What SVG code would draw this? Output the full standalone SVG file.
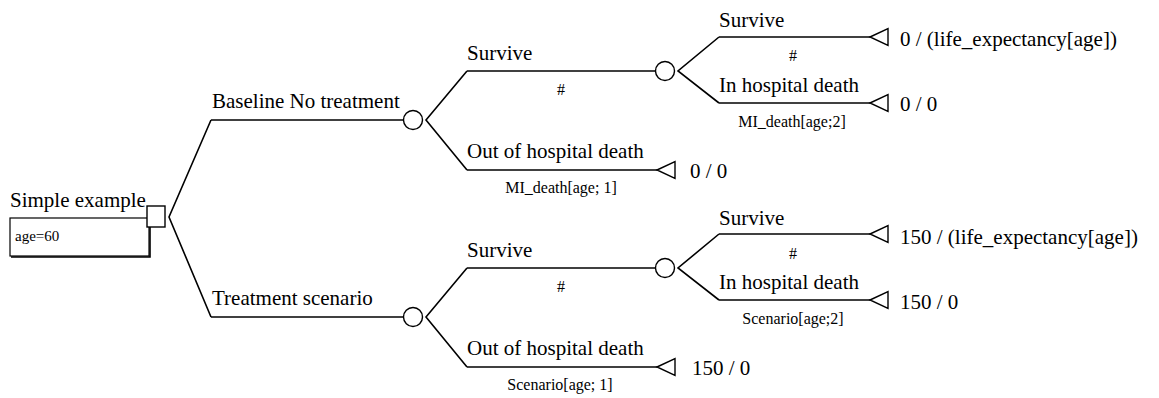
<svg xmlns="http://www.w3.org/2000/svg" width="1159" height="398" viewBox="0 0 1159 398">
<style>
.ln{fill:none;stroke:#000;stroke-width:1.6}
.nd{fill:#fff;stroke:#000;stroke-width:1.4}
.t{font-family:"Liberation Serif","Times New Roman",serif;font-size:21px;fill:#000}
.s{font-family:"Liberation Serif","Times New Roman",serif;font-size:16px;fill:#000;text-anchor:middle}
.v{font-family:"Liberation Serif","Times New Roman",serif;font-size:15px;fill:#000}
</style>
<defs>
<circle id="chance" r="9.5" class="nd"/>
<path id="term" d="M0,0 L18,-8.5 L18,8.5 Z" class="nd"/>
</defs>
<rect width="1159" height="398" fill="#fff"/>
<g id="connectors">
<path class="ln" d="M211,120 L169,217 L211,317"/>
<path class="ln" d="M211,120 H403.5"/>
<path class="ln" d="M211,317 H403.5"/>
<path class="ln" d="M467,71 L426,120 L467,170"/>
<path class="ln" d="M467,71 H655.5"/>
<path class="ln" d="M467,170 H657"/>
<path class="ln" d="M719,37 L678,71 L719,103"/>
<path class="ln" d="M719,37 H870"/>
<path class="ln" d="M719,103 H870"/>
<path class="ln" d="M467,268 L426,317 L467,367"/>
<path class="ln" d="M467,268 H655.5"/>
<path class="ln" d="M467,367 H657"/>
<path class="ln" d="M719,234 L678,268 L719,300"/>
<path class="ln" d="M719,234 H870"/>
<path class="ln" d="M719,300 H870"/>
</g>
<g id="root">
<text class="t" x="10" y="207">Simple example</text>
<rect x="10" y="218" width="139" height="38" fill="#fff" stroke="#000" stroke-width="1.2"/>
<path d="M150,219 V257 H11" fill="none" stroke="#000" stroke-width="1.6"/>
<text class="v" x="15" y="241">age=60</text>
<rect x="147" y="206" width="18" height="21" class="nd"/>
</g>
<g id="baseline">
<text class="t" x="212" y="108">Baseline No treatment</text>
<use href="#chance" x="413" y="120"/>
</g>
<g id="treatment">
<text class="t" x="212" y="305">Treatment scenario</text>
<use href="#chance" x="413" y="317"/>
</g>
<g id="b-survive">
<text class="t" x="467" y="60">Survive</text>
<text class="s" x="561" y="95">#</text>
<use href="#chance" x="665" y="71"/>
</g>
<g id="b-out">
<text class="t" x="467" y="158">Out of hospital death</text>
<text class="s" x="561" y="193">MI_death[age; 1]</text>
<use href="#term" x="657" y="170"/>
<text class="t" x="690" y="178">0 / 0</text>
</g>
<g id="b-s-survive">
<text class="t" x="719" y="27">Survive</text>
<text class="s" x="793" y="61">#</text>
<use href="#term" x="870" y="37"/>
<text class="t" x="900" y="46">0 / (life_expectancy[age])</text>
</g>
<g id="b-s-inhosp">
<text class="t" x="719" y="92">In hospital death</text>
<text class="s" x="792" y="127">MI_death[age;2]</text>
<use href="#term" x="870" y="103"/>
<text class="t" x="900" y="111">0 / 0</text>
</g>
<g id="t-survive">
<text class="t" x="467" y="257">Survive</text>
<text class="s" x="561" y="292">#</text>
<use href="#chance" x="665" y="268"/>
</g>
<g id="t-out">
<text class="t" x="467" y="355">Out of hospital death</text>
<text class="s" x="560" y="390">Scenario[age; 1]</text>
<use href="#term" x="657" y="367"/>
<text class="t" x="692" y="375">150 / 0</text>
</g>
<g id="t-s-survive">
<text class="t" x="719" y="225">Survive</text>
<text class="s" x="793" y="259">#</text>
<use href="#term" x="870" y="234"/>
<text class="t" x="900" y="244">150 / (life_expectancy[age])</text>
</g>
<g id="t-s-inhosp">
<text class="t" x="719" y="289">In hospital death</text>
<text class="s" x="793" y="324">Scenario[age;2]</text>
<use href="#term" x="870" y="300"/>
<text class="t" x="900" y="309">150 / 0</text>
</g>
</svg>
